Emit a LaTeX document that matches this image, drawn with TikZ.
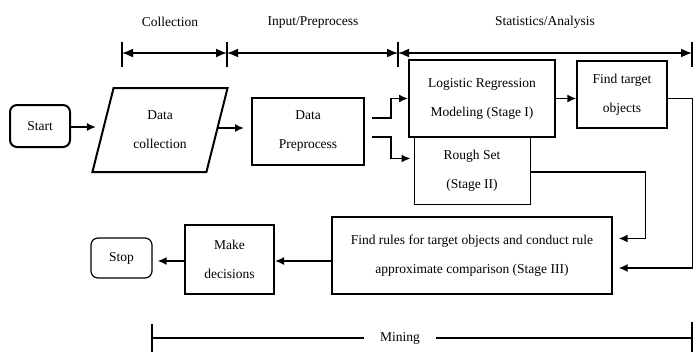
\documentclass[tikz,border=0pt]{standalone}
\usepackage{fontspec}
\setmainfont{Liberation Serif}
\usetikzlibrary{arrows.meta, positioning, shapes.geometric}

\begin{document}
\begin{tikzpicture}[
  x=1pt, y=-1pt,
  box/.style={rectangle, draw, line width=#1, align=center, font=\fontsize{13.5}{29}\selectfont, inner sep=2pt},
  box/.default=1pt,
  term/.style={box=#1, rounded corners=7pt},
  term/.default=1pt,
  arr/.style={-{Latex[length=9pt, width=8pt]}, line width=1.6pt},
  dim/.style={{Latex[length=11pt, width=9pt]}-{Latex[length=11pt, width=9pt]}, line width=1.6pt},
  heading/.style={font=\fontsize{13.5}{15}\selectfont}
]
  \useasboundingbox (0,0) rectangle (693,351);

  % phase headings
  \node[heading] (hcoll) at (170,22) {Collection};
  \node[heading] (hprep) at (313,22) {Input/Preprocess};
  \node[heading] (hstat) at (545,22) {Statistics/Analysis};

  \coordinate (t1) at (122,53);
  \coordinate (t2) at (227,53);
  \coordinate (t3) at (398,53);
  \coordinate (t4) at (692,53);
  \foreach \t in {t1,t2,t3,t4}
    \draw[line width=1.6pt] ([shift={(0,-11)}]\t) -- ([shift={(0,14)}]\t);
  \draw[dim] (t1) -- (t2);
  \draw[dim] (t2) -- (t3);
  \draw[dim] (t3) -- (t4);

  % flow nodes
  \node[term=2pt, minimum width=60pt, minimum height=42pt] (start) at (40,126) {Start};
  \node[trapezium, trapezium stretches=true, trapezium left angle=73, trapezium right angle=107,
        draw, line width=2pt, minimum width=136pt, minimum height=84pt, align=center,
        font=\fontsize{13.5}{29}\selectfont] (dc) at (160,130) {Data\\collection};
  \node[box=2pt, minimum width=112pt, minimum height=67pt] (dp) at (308,131.5) {Data\\Preprocess};
  \node[box=1pt, minimum width=116pt, minimum height=67pt] (rs) at (472,170.5) {Rough Set\\(Stage II)};
  \node[box=2pt, minimum width=146pt, minimum height=77pt] (lr) at (482,98.5) {Logistic Regression\\Modeling (Stage I)};
  \node[box=1.4pt, minimum width=90pt, minimum height=67pt] (ft) at (622,94.5) {Find target\\objects};
  \node[box=1.3pt, minimum width=280pt, minimum height=77pt] (s3) at (472,255.5)
       {Find rules for target objects and conduct rule\\approximate comparison (Stage III)};
  \node[box=2pt, minimum width=89pt, minimum height=69pt] (md) at (229.5,259.5) {Make\\decisions};
  \node[term=1.2pt, minimum width=61pt, minimum height=40pt] (stop) at (121.5,258) {Stop};

  % connectors
  \draw[arr, shorten >=6pt] ([shift={(0,1)}]start.east) -- ([shift={(0,1)}]start.east -| dc.west);
  \draw[arr, shorten >=7pt] ([shift={(0,-2)}]dc.east) -- ([shift={(0,-2)}]dc.east -| dp.west);
  \draw[arr] ([shift={(7,-13.5)}]dp.east) -- ++(19,0) |- (lr.west);
  \draw[arr, shorten >=3pt] ([shift={(7,5.5)}]dp.east) -- ++(19,0) |- ([shift={(0,-12)}]rs.west);
  \draw[arr] (lr.east) -- (lr.east -| ft.west);
  \draw[arr, shorten >=6pt] (lr.east -| ft.east) -- ++(25,0) |- ([shift={(0,12.5)}]s3.east);
  \draw[arr, shorten >=6pt] ([shift={(0,1.5)}]rs.east) -- ++(115,0) |- ([shift={(0,-17)}]s3.east);
  \draw[arr] ([shift={(0,1.5)}]s3.west |- md.east) -- ([shift={(0,1.5)}]md.east);
  \draw[arr, shorten >=5pt] ([shift={(0,1.5)}]md.west) -- ([shift={(0,1.5)}]md.west -| stop.east);

  % mining span
  \coordinate (m1) at (152,338);
  \coordinate (m2) at (692,338);
  \draw[line width=1.4pt] (m1) -- (m2);
  \draw[line width=1.4pt] ([shift={(0,-14)}]m1) -- ([shift={(0,14)}]m1);
  \draw[line width=1.4pt] ([shift={(0,-16)}]m2) -- ([shift={(0,14)}]m2);
  \node[heading, fill=white, inner xsep=16pt] (mining) at (400,338) {Mining};
\end{tikzpicture}
\end{document}
